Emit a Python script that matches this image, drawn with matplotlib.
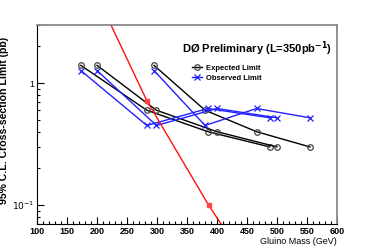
import matplotlib.pyplot as plt
from matplotlib.ticker import MultipleLocator, LogLocator, NullFormatter

plt.rcParams['font.family'] = ['Liberation Sans', 'DejaVu Sans']

# expected limits, three mass scans
exp_mass = [[173, 283, 385, 488],
            [200, 299, 400, 500],
            [295, 380, 466, 555]]
exp_limit = [[1.40, 0.60, 0.40, 0.30],
             [1.40, 0.60, 0.40, 0.30],
             [1.40, 0.60, 0.40, 0.30]]

# observed limits
obs_mass = [[173, 283, 385, 488],
            [200, 299, 400, 500],
            [295, 380, 466, 555]]
obs_limit = [[1.27, 0.45, 0.62, 0.52],
             [1.27, 0.45, 0.62, 0.52],
             [1.27, 0.45, 0.62, 0.52]]

# theory cross section
theory_mass = [218, 283, 386, 412]
theory_xsec = [3.4, 0.72, 0.10, 0.064]

fig = plt.figure(figsize=(3.74, 2.5), dpi=100)
ax = fig.add_axes([0.099, 0.104, 0.802, 0.796])

for i in range(len(exp_mass)):
    ax.plot(exp_mass[i], exp_limit[i], color='black', lw=1.0, marker='o', ms=4,
            mfc='none', mec='#444444', mew=0.9,
            label='Expected Limit' if i == 0 else None)
for i in range(len(obs_mass)):
    ax.plot(obs_mass[i], obs_limit[i], color='#2222ff', lw=1.0, marker='x', ms=4,
            mew=0.9, label='Observed Limit' if i == 0 else None)

ax.plot(theory_mass, theory_xsec, color='#ff1111', lw=1.0)
ax.plot(theory_mass[1:3], theory_xsec[1:3], ls='none', marker='s', ms=2.5,
        color='#ff4444')

ax.set_yscale('log')
ax.set_xlim(100, 600)
ax.set_ylim(0.07, 3)

ax.xaxis.set_major_locator(MultipleLocator(50))
ax.xaxis.set_minor_locator(MultipleLocator(10))
ax.yaxis.set_minor_locator(LogLocator(base=10, subs=range(2, 10)))
ax.yaxis.set_minor_formatter(NullFormatter())
ax.set_yticks([0.1, 1])
ax.set_yticklabels(['$10^{-1}$', '1'])

ax.tick_params(which='both', direction='in', top=False, right=False,
               labelsize=6.5, pad=2)
ax.tick_params(which='major', length=5, width=0.8)
ax.tick_params(which='minor', length=2.5, width=0.8)
for lab in ax.get_xticklabels():
    lab.set_fontweight('bold')

for s in ['top', 'right']:
    ax.spines[s].set_color('#888888')
    ax.spines[s].set_linewidth(1.3)
for s in ['left', 'bottom']:
    ax.spines[s].set_linewidth(0.8)

ax.set_xlabel('Gluino Mass (GeV)', fontsize=6.5, ha='right', x=1.0, labelpad=1)
ax.set_ylabel('95% C.L. Cross-section Limit (pb)', fontsize=7.6, fontweight='bold')
ax.yaxis.set_label_coords(-0.095, 0.52)

ax.text(0.983, 0.88, 'D\u00d8 Preliminary (L=350pb$^{\\mathbf{-1}}$)',
        transform=ax.transAxes, ha='right', va='center', fontsize=8,
        fontweight='bold')

leg = ax.legend(loc='upper left', bbox_to_anchor=(0.50, 0.83), frameon=False,
                fontsize=5.5, handlelength=1.3, handletextpad=0.5,
                borderpad=0.2, labelspacing=0.4)
for t in leg.get_texts():
    t.set_fontweight('bold')

fig.savefig('out.png', dpi=100)
